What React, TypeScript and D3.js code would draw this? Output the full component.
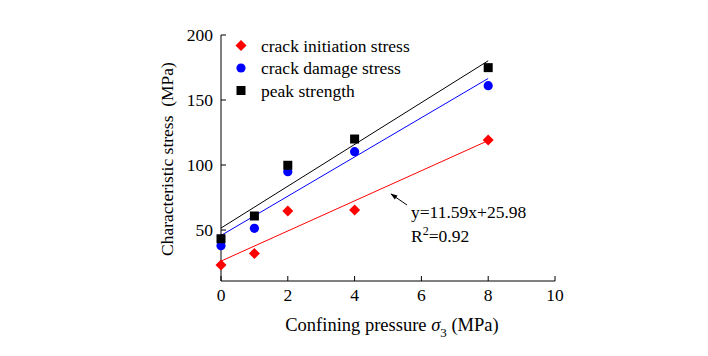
import React from "react";
import * as d3 from "d3";

const pressures = [0, 1, 2, 4, 8];
const initiation = [23.1, 32, 64.6, 65.4, 119.2];
const damage = [38, 51.3, 94.9, 110.3, 161];
const peak = [43.3, 60.8, 99.8, 120, 174.9];
const xTicks = [0, 2, 4, 6, 8, 10];
const yTicks = [50, 100, 150, 200];
const legendLabels = ["crack initiation stress", "crack damage stress", "peak strength"];
const equationText = "y=11.59x+25.98";
const r2Value = "0.92";

function fit(xs: number[], ys: number[]) {
  const mx = d3.mean(xs)!;
  const my = d3.mean(ys)!;
  let sxy = 0, sxx = 0;
  xs.forEach((x, i) => { sxy += (x - mx) * (ys[i] - my); sxx += (x - mx) * (x - mx); });
  const slope = sxy / sxx;
  return { slope, intercept: my - slope * mx };
}

export default function App() {
  const W = 708, H = 356;
  const x = d3.scaleLinear().domain([0, 10]).range([221, 555]);
  const y = d3.scaleLinear().domain([10.8, 200]).range([281, 35]);
  const font = "'Liberation Serif', 'Times New Roman', serif";
  const fs = 17.5;
  const series = [
    { data: initiation, color: "#ff0000", shape: "diamond" },
    { data: damage, color: "#0000ff", shape: "circle" },
    { data: peak, color: "#000000", shape: "square" },
  ];
  const marker = (shape: string, cx: number, cy: number, color: string, key: any) => {
    if (shape === "diamond") {
      const s = 5.5;
      return <path key={key} d={`M${cx},${cy - s}L${cx + s},${cy}L${cx},${cy + s}L${cx - s},${cy}Z`} fill={color} />;
    }
    if (shape === "circle") return <circle key={key} cx={cx} cy={cy} r={4.6} fill={color} />;
    return <rect key={key} x={cx - 4.5} y={cy - 4.5} width={9} height={9} fill={color} />;
  };
  const x0 = x(0), x8 = x(8);
  return (
    <div style={{ position: "absolute", left: 0, top: 0 }}>
      <svg width={W} height={H} style={{ display: "block", background: "#fff" }} fontFamily={font}>
        <defs>
          <marker id="ah" viewBox="0 0 10 10" refX="9" refY="5" markerWidth="7" markerHeight="7" orient="auto-start-reverse">
            <path d="M0,1.5L10,5L0,8.5Z" fill="#000" />
          </marker>
        </defs>
        {/* axes */}
        <line x1={x0} x2={x(10)} y1={281} y2={281} stroke="#000" strokeWidth={1} />
        <line x1={x0} x2={x0} y1={y(200)} y2={281} stroke="#000" strokeWidth={1} />
        {xTicks.map((t) => (
          <g key={"xt" + t}>
            <line x1={x(t)} x2={x(t)} y1={281} y2={276} stroke="#000" />
            <text x={x(t)} y={301} textAnchor="middle" fontSize={fs}>{t}</text>
          </g>
        ))}
        {yTicks.map((t) => (
          <g key={"yt" + t}>
            <line x1={x0} x2={x0 + 5} y1={y(t)} y2={y(t)} stroke="#000" />
            <text x={213} y={y(t) + 6} textAnchor="end" fontSize={fs}>{t}</text>
          </g>
        ))}
        <text x={392} y={331} textAnchor="middle" fontSize={18.5}>
          Confining pressure <tspan fontStyle="italic">σ</tspan><tspan dy={6} fontSize={13}>3</tspan><tspan dy={-6}> (MPa)</tspan>
        </text>
        <text transform={`translate(173,${159}) rotate(-90)`} textAnchor="middle" fontSize={fs} style={{ whiteSpace: "pre" }}>
          {"Characteristic stress  (MPa)"}
        </text>
        {/* fit lines */}
        {series.map((s, i) => {
          const f = fit(pressures, s.data);
          return (
            <line key={"fl" + i} x1={x0} x2={x8} y1={y(f.intercept)} y2={y(f.intercept + f.slope * 8)} stroke={s.color} strokeWidth={1} />
          );
        })}
        {/* points */}
        {series.map((s, i) => (
          <g key={"pts" + i}>{s.data.map((v, j) => marker(s.shape, x(pressures[j]), y(v), s.color, j))}</g>
        ))}
        {/* legend */}
        {legendLabels.map((l, i) => (
          <g key={"lg" + i}>
            {marker(series[i].shape, 241, 45.5 + i * 22.5, series[i].color, "m")}
            <text x={261} y={51.5 + i * 22.5} fontSize={fs}>{l}</text>
          </g>
        ))}
        {/* annotation */}
        <line x1={407} y1={205} x2={391} y2={194} stroke="#000" strokeWidth={1} markerEnd="url(#ah)" />
        <text x={411} y={218} fontSize={fs}>{equationText}</text>
        <text x={411} y={242} fontSize={fs}>R<tspan dy={-7} fontSize={12}>2</tspan><tspan dy={7}>={r2Value}</tspan></text>
      </svg>
    </div>
  );
}
